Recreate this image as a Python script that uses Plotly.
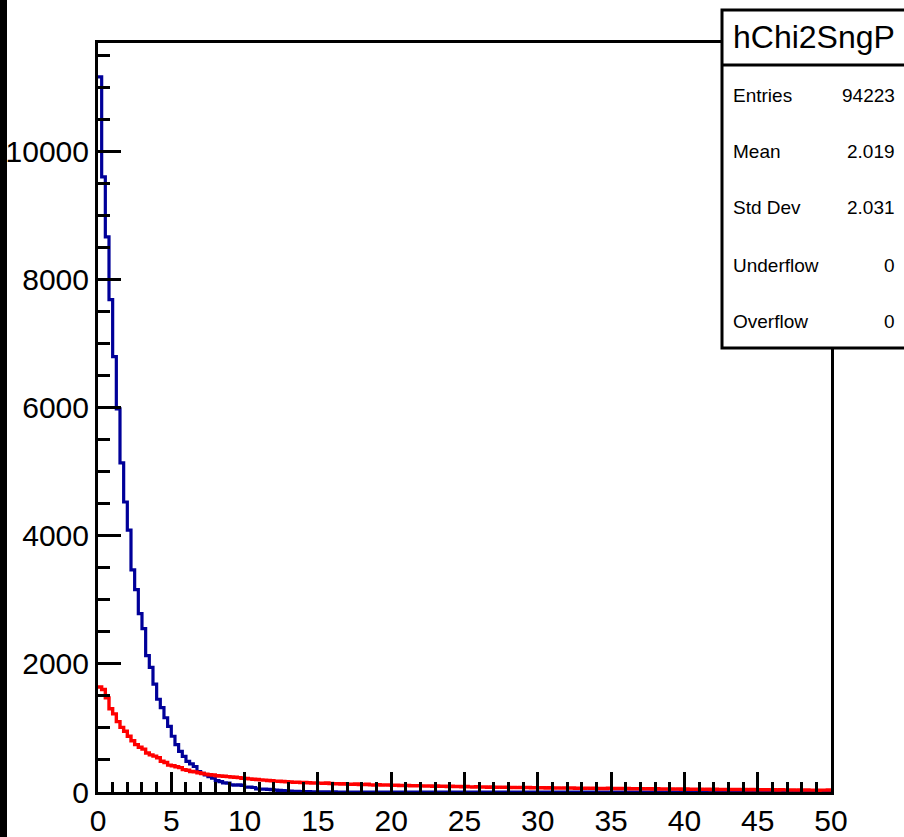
import numpy as np
import plotly.graph_objects as go

# ---------------- data ----------------
bin_width = 0.25
n_bins = 200

blue_counts = [
    11170, 9610, 8670, 7690, 6800, 5985, 5140, 4530, 4090, 3470,
    3160, 2787, 2551, 2131, 1948, 1685, 1449, 1318, 1160, 1024,
    871, 740, 635, 556, 477, 440, 398, 320, 290, 268,
    240, 215, 180, 162, 142, 138, 112, 108, 110, 104,
    74, 76, 70, 48, 46, 44, 40, 38, 30, 26,
    22, 18, 14, 12, 9, 8, 6, 5, 3, 2,
    2, 1, 1, 0, 1, 0, 0, 0, 0, 0,
    0, 0, 0, 0, 0, 0, 0, 0, 0, 0,
    0, 0, 0, 0, 0, 0, 0, 0, 0, 0,
    0, 0, 0, 0, 0, 0, 0, 0, 0, 0,
    0, 0, 0, 0, 0, 0, 0, 0, 0, 0,
    0, 0, 0, 0, 0, 0, 0, 0, 0, 0,
    0, 0, 0, 0, 0, 0, 0, 0, 0, 0,
    0, 0, 0, 0, 0, 0, 0, 0, 0, 0,
    0, 0, 0, 0, 0, 0, 0, 0, 0, 0,
    0, 0, 0, 0, 0, 0, 0, 0, 0, 0,
    0, 0, 0, 0, 0, 0, 0, 0, 0, 0,
    0, 0, 0, 0, 0, 0, 0, 0, 0, 0,
    0, 0, 0, 0, 0, 0, 0, 0, 0, 0,
    0, 0, 0, 0, 0, 0, 0, 0, 0, 0,
]

red_counts = [
    1640, 1600, 1470, 1300, 1220, 1100, 1010, 950, 870, 800,
    740, 700, 670, 610, 580, 560, 535, 480, 460, 420,
    410, 395, 380, 350, 340, 320, 315, 300, 290, 280,
    270, 265, 255, 250, 245, 240, 235, 230, 225, 215,
    210, 205, 200, 195, 190, 185, 180, 175, 170, 168,
    165, 160, 158, 150, 155, 148, 150, 145, 140, 142,
    138, 135, 140, 132, 128, 130, 125, 128, 122, 120,
    124, 118, 115, 120, 112, 110, 115, 108, 112, 110,
    105, 108, 102, 100, 104, 98, 95, 100, 96, 92,
    95, 90, 93, 88, 90, 86, 89, 84, 85, 82,
    86, 80, 78, 82, 76, 79, 75, 78, 73, 76,
    72, 74, 70, 73, 69, 71, 68, 70, 66, 68,
    65, 67, 63, 66, 62, 64, 61, 63, 60, 62,
    58, 61, 57, 60, 56, 58, 55, 57, 54, 60,
    56, 54, 57, 52, 55, 51, 53, 50, 52, 49,
    51, 48, 50, 47, 49, 46, 48, 45, 47, 44,
    46, 43, 45, 42, 44, 41, 43, 40, 42, 39,
    41, 38, 40, 38, 39, 37, 39, 36, 38, 35,
    37, 34, 36, 33, 35, 32, 34, 33, 31, 33,
    30, 32, 30, 31, 29, 30, 28, 30, 29, 31,
]

stats_title = "hChi2SngP"
stats_labels = ["Entries", "Mean", "Std Dev", "Underflow", "Overflow"]
stats_values = ["94223", "2.019", "2.031", "0", "0"]

x_tickvals = [0, 5, 10, 15, 20, 25, 30, 35, 40, 45, 50]
y_tickvals = [0, 2000, 4000, 6000, 8000, 10000]

# ---------------- figure ----------------
edges = np.arange(n_bins + 1) * bin_width


def step_xy(counts):
    xs = list(edges)
    ys = list(counts) + [counts[-1]]
    return xs, ys


W, H = 904, 837
L, R, T, B = 98, 831, 43, 792


def px_x(p):
    return (p - L) / (R - L)


def px_y(p):
    return (B - p) / (B - T)


fig = go.Figure()
bx, by = step_xy(blue_counts)
fig.add_trace(go.Scatter(x=bx, y=by, mode="lines", line_shape="hv",
                         line=dict(color="#000099", width=3.2), showlegend=False,
                         hoverinfo="skip"))
rx, ry = step_xy(red_counts)
fig.add_trace(go.Scatter(x=rx, y=ry, mode="lines", line_shape="hv",
                         line=dict(color="#ff0000", width=3.4), showlegend=False,
                         hoverinfo="skip"))

font_main = "Liberation Sans, Arial, sans-serif"

fig.update_layout(
    template="none",
    width=W, height=H,
    margin=dict(l=L, r=W - R, t=T, b=H - B, pad=0, autoexpand=False),
    paper_bgcolor="rgba(0,0,0,0)", plot_bgcolor="white",
    font=dict(family=font_main, color="black"),
    hovermode=False,
    xaxis=dict(range=[0, 50], tickvals=x_tickvals, ticks="inside", ticklen=20,
               tickwidth=3, tickcolor="black", showline=True, linewidth=3,
               linecolor="black", mirror=True, showgrid=False, zeroline=False,
               automargin=False,
               tickfont=dict(size=30, color="black", family=font_main),
               minor=dict(dtick=1, ticks="inside", ticklen=10, tickwidth=3,
                          tickcolor="black", showgrid=False)),
    yaxis=dict(range=[0, 11700], tickvals=y_tickvals, tickformat="d",
               ticks="inside", ticklen=23, tickwidth=3, tickcolor="black",
               showline=True, linewidth=3, linecolor="black", mirror=True,
               showgrid=False, zeroline=False, automargin=False,
               tickfont=dict(size=30, color="black", family=font_main),
               minor=dict(dtick=500, ticks="inside", ticklen=12, tickwidth=3,
                          tickcolor="black", showgrid=False)),
)

shapes = []
# stats box
shapes.append(dict(type="rect", xref="paper", yref="paper",
                   x0=px_x(722), x1=px_x(910), y0=px_y(348), y1=px_y(10),
                   fillcolor="white", line=dict(color="black", width=3),
                   layer="above"))
shapes.append(dict(type="line", xref="paper", yref="paper",
                   x0=px_x(722), x1=px_x(910), y0=px_y(65), y1=px_y(65),
                   line=dict(color="black", width=3), layer="above"))
fig.update_layout(shapes=shapes)

annotations = [
    dict(text=stats_title, xref="paper", yref="paper",
         x=px_x(814), y=px_y(37), xanchor="center", yanchor="middle",
         showarrow=False, font=dict(size=32, color="black", family=font_main)),
]
row_y = [95, 152, 208, 265, 321]
for lab, val, yy in zip(stats_labels, stats_values, row_y):
    annotations.append(dict(text=lab, xref="paper", yref="paper", x=px_x(731),
                            y=px_y(yy), xanchor="left", yanchor="middle",
                            showarrow=False,
                            font=dict(size=19, color="black", family=font_main)))
    annotations.append(dict(text=val, xref="paper", yref="paper", x=px_x(897),
                            y=px_y(yy), xanchor="right", yanchor="middle",
                            showarrow=False,
                            font=dict(size=19, color="black", family=font_main)))
fig.update_layout(annotations=annotations)

# page reset: no body margin, white page with the black strip at the left edge
reset_css = (
    "var bg='linear-gradient(to right, #000 0px, #000 7px, #fff 7px, #fff 100%)';"
    "document.documentElement.style.margin='0';"
    "document.documentElement.style.padding='0';"
    "document.documentElement.style.overflow='hidden';"
    "document.documentElement.style.background=bg;"
    "document.body.style.margin='0';"
    "document.body.style.padding='0';"
    "document.body.style.overflow='hidden';"
    "document.body.style.background=bg;"
)
fig.write_html("out.html", post_script=reset_css,
               config={"displayModeBar": False, "staticPlot": True})
